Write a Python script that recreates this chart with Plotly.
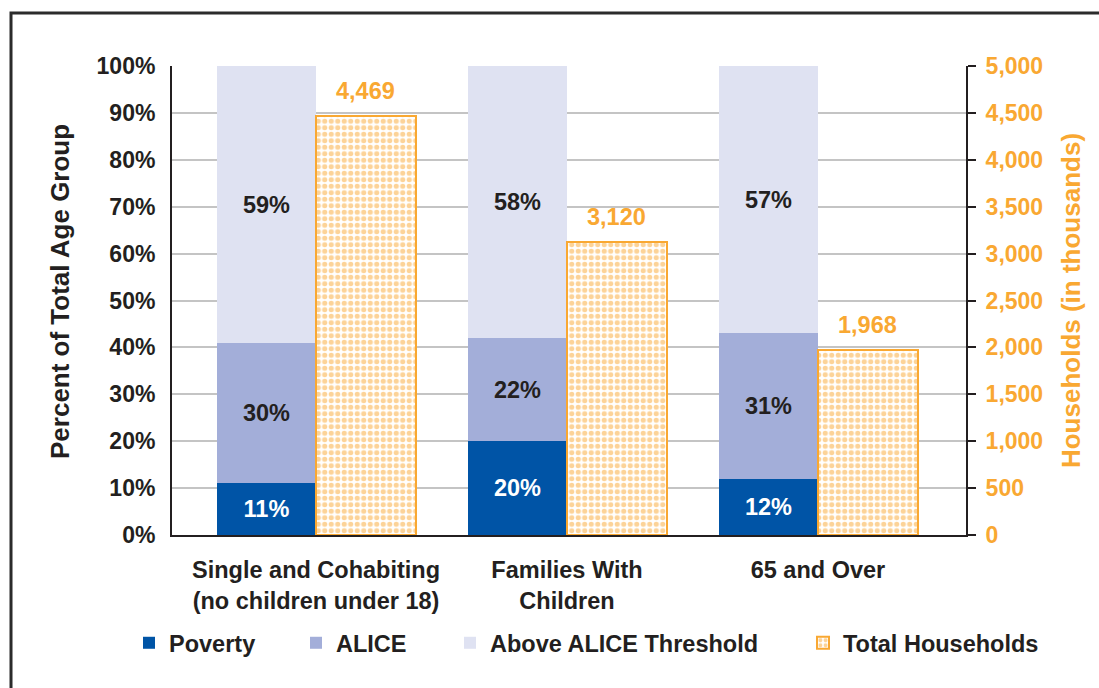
import plotly.graph_objects as go

categories = ["Single and Cohabiting<br>(no children under 18)", "Families With<br>Children", "65 and Over"]
poverty = [11, 20, 12]
alice = [30, 22, 31]
above = [59, 58, 57]
total_households = [4469, 3120, 1968]
pct_ticks = [0, 10, 20, 30, 40, 50, 60, 70, 80, 90, 100]
hh_ticks = [0, 500, 1000, 1500, 2000, 2500, 3000, 3500, 4000, 4500, 5000]

C_POV = "#0054A6"
C_ALICE = "#A3AED9"
C_ABOVE = "#DFE2F2"
C_ORANGE = "#F9A832"
C_TEXT = "#231F20"
FONT = "Liberation Sans, Arial, sans-serif"

W, H = 1099, 688
L, R, T, B = 172, 133, 66, 153
pw, ph = W - L - R, H - T - B

def px_x(p):
    return (p - L) / pw

def px_y(p):
    return (H - B - p) / ph

xs = list(range(len(categories)))
bw = 0.395

fig = go.Figure()
for name, vals, col, tcol, lg in [
    ("Poverty", poverty, C_POV, "white", "legend"),
    ("ALICE", alice, C_ALICE, C_TEXT, "legend2"),
    ("Above ALICE Threshold", above, C_ABOVE, C_TEXT, "legend3"),
]:
    fig.add_trace(go.Bar(
        x=xs, y=vals, name=name, marker=dict(color=col, line=dict(width=0)),
        width=bw, offset=-bw,
        text=[f"{v}%" for v in vals], textposition="inside", insidetextanchor="middle",
        textfont=dict(family=FONT, size=23.5, color=tcol, weight="bold"),
        constraintext="none", xaxis="x", yaxis="y", legend=lg, showlegend=True,
    ))

fig.add_trace(go.Bar(
    x=xs, y=total_households, name="Total Households",
    marker=dict(color="white", line=dict(color=C_ORANGE, width=2),
                pattern=dict(shape=".", fgcolor=C_ORANGE, bgcolor="white", size=6.5, solidity=0.5)),
    width=0.398, offset=0, xaxis="x", yaxis="y2", legend="legend4", showlegend=True,
))

for i, v in enumerate(total_households):
    fig.add_annotation(x=xs[i] + 0.199, y=v, xref="x", yref="y2", text=f"{v:,}",
                       showarrow=False, yanchor="middle", yshift=25,
                       font=dict(family=FONT, size=23.5, color=C_ORANGE, weight="bold"))

fig.add_shape(type="rect", xref="paper", yref="paper",
              x0=px_x(11), x1=px_x(W + 30), y0=px_y(H + 30), y1=px_y(13),
              line=dict(color="#2B2B2B", width=3), fillcolor="rgba(0,0,0,0)", layer="below")

leg_common = dict(orientation="h", xanchor="left", yanchor="middle", bgcolor="rgba(0,0,0,0)",
                  font=dict(family=FONT, size=23.5, color=C_TEXT, weight="bold"))
ly = px_y(643)
fig.update_layout(
    width=W, height=H, margin=dict(l=L, r=R, t=T, b=B, autoexpand=False),
    paper_bgcolor="white", plot_bgcolor="white",
    barmode="stack", bargap=0, showlegend=True,
    font=dict(family=FONT, color=C_TEXT),
    xaxis=dict(range=[-0.574, 2.59], tickvals=xs, ticktext=categories, showline=True,
               linecolor=C_TEXT, linewidth=2, ticks="", showgrid=False, zeroline=False,
               ticklabelstandoff=13,
               tickfont=dict(family=FONT, size=23.5, color=C_TEXT, weight="bold")),
    yaxis=dict(range=[0, 100], tickvals=pct_ticks, ticktext=[f"{t}%" for t in pct_ticks],
               showline=True, linecolor=C_TEXT, linewidth=2, ticks="",
               showgrid=True, gridcolor="#C4C4C4", gridwidth=2, zeroline=False,
               ticklabelstandoff=10,
               tickfont=dict(family=FONT, size=23, color=C_TEXT, weight="bold")),
    yaxis2=dict(range=[0, 5000], tickvals=hh_ticks, ticktext=[f"{t:,}" for t in hh_ticks],
                overlaying="y", side="right", showline=True, linecolor=C_TEXT, linewidth=2,
                ticks="outside", ticklen=8, tickwidth=2, tickcolor=C_TEXT,
                showgrid=False, zeroline=False, ticklabelstandoff=5,
                tickfont=dict(family=FONT, size=23, color=C_ORANGE, weight="bold"),
                title=dict(text="Households (in thousands)", standoff=20,
                           font=dict(family=FONT, size=26, color=C_ORANGE, weight="bold"))),
    legend=dict(x=px_x(129), y=ly, **leg_common),
    legend2=dict(x=px_x(296), y=ly, **leg_common),
    legend3=dict(x=px_x(450), y=ly, **leg_common),
    legend4=dict(x=px_x(803), y=ly, **leg_common),
)

fig.add_annotation(text="Percent of Total Age Group", xref="paper", yref="paper",
                   x=px_x(60), y=px_y(292), textangle=-90, showarrow=False,
                   xanchor="center", yanchor="middle",
                   font=dict(family=FONT, size=26, color=C_TEXT, weight="bold"))

fig.write_html("out.html", post_script="document.body.style.margin='0';",
               config={"displayModeBar": False})
